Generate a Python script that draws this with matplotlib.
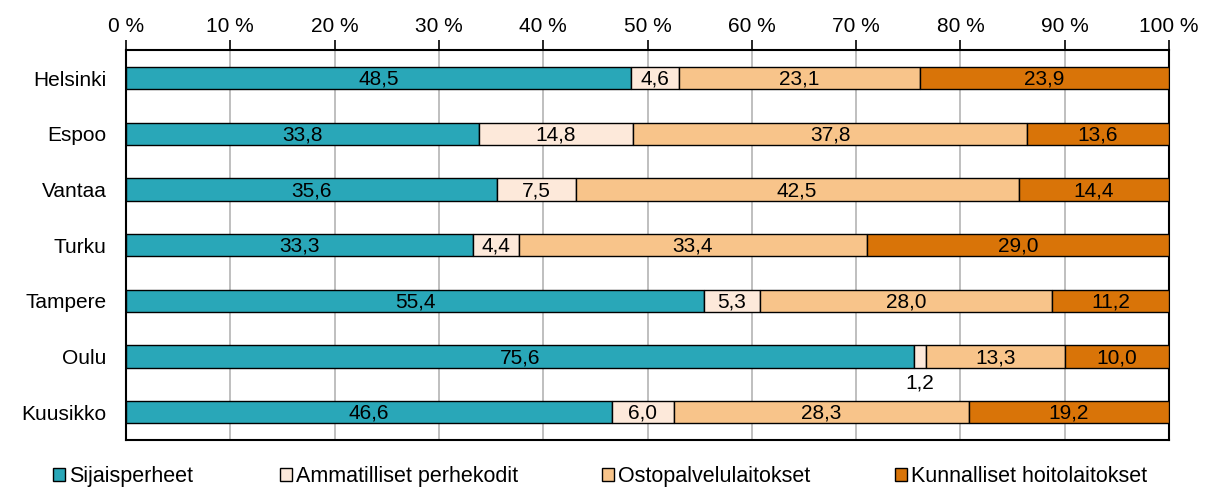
import numpy as np
import matplotlib.pyplot as plt
from matplotlib.patches import Patch

plt.rcParams['font.family'] = ['Liberation Sans', 'DejaVu Sans']

# Data
cities = ['Helsinki', 'Espoo', 'Vantaa', 'Turku', 'Tampere', 'Oulu', 'Kuusikko']
sijaisperheet = [48.5, 33.8, 35.6, 33.3, 55.4, 75.6, 46.6]
ammatilliset = [4.6, 14.8, 7.5, 4.4, 5.3, 1.2, 6.0]
ostopalvelu = [23.1, 37.8, 42.5, 33.4, 28.0, 13.3, 28.3]
kunnalliset = [23.9, 13.6, 14.4, 29.0, 11.2, 10.0, 19.2]

series_names = ['Sijaisperheet', 'Ammatilliset perhekodit',
                'Ostopalvelulaitokset', 'Kunnalliset hoitolaitokset']
colors = ['#29A7B8', '#FDE9DA', '#F8C48A', '#D97408']

values = np.array([sijaisperheet, ammatilliset, ostopalvelu, kunnalliset])
shares = values / values.sum(axis=0) * 100

fig = plt.figure(figsize=(12.12, 4.87), dpi=100)
ax = fig.add_axes([0.104, 0.0965, 0.8605, 0.8005])

y = np.arange(len(cities))
left = np.zeros(len(cities))
for i in range(4):
    ax.barh(y, shares[i], left=left, height=0.4, color=colors[i],
            edgecolor='black', linewidth=1, zorder=3)
    for j in range(len(cities)):
        cx = left[j] + shares[i][j] / 2
        txt = f'{values[i][j]:.1f}'.replace('.', ',')
        if values[i][j] < 2:
            ax.text(cx, y[j] + 0.47, txt, ha='center', va='center',
                    fontsize=15, zorder=4)
        else:
            ax.text(cx, y[j] + 0.02, txt, ha='center', va='center',
                    fontsize=15, zorder=4)
    left += shares[i]

ax.set_xlim(0, 100)
ax.set_ylim(6.5, -0.5)
ax.set_yticks(y)
ax.set_yticklabels(cities, fontsize=15)
ax.tick_params(axis='y', length=0, pad=14)
ax.xaxis.tick_top()
ax.set_xticks(np.arange(0, 101, 10))
ax.set_xticklabels([f'{v} %' for v in range(0, 101, 10)], fontsize=15)
ax.tick_params(axis='x', length=7, width=1.2, pad=3)
ax.grid(axis='x', color='#b4b4b4', linewidth=1.2, zorder=0)
for s in ax.spines.values():
    s.set_linewidth(1.5)

# legend entries placed like the original
legend_x = [0.0437, 0.231, 0.4967, 0.7384]
for c, name, lx in zip(colors, series_names, legend_x):
    h = Patch(facecolor=c, edgecolor='black', linewidth=1)
    fig.legend([h], [name], loc='lower left', bbox_to_anchor=(lx, 0.0),
               frameon=False, fontsize=15.5, handlelength=0.55, handleheight=0.55,
               handletextpad=0.2, borderpad=0, borderaxespad=0)

fig.savefig('out.png', dpi=100)
